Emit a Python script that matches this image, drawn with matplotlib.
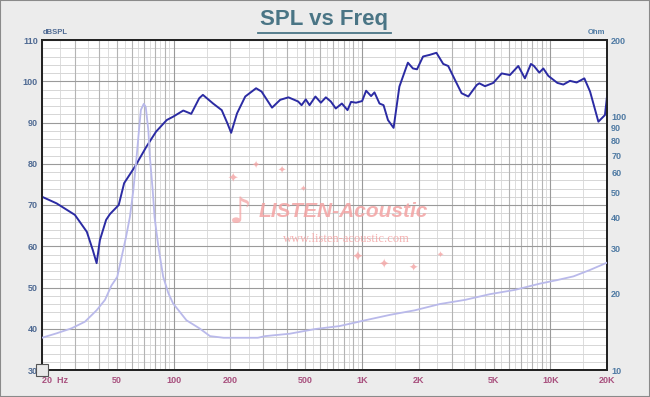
import numpy as np
import matplotlib
matplotlib.use("Agg")
import matplotlib.pyplot as plt

# ---------------- data ----------------
freq_spl = [20, 23.9, 29.9, 34.6, 37.2, 39.0, 40.6, 43.8, 45.9, 51.1, 54.6, 62.3, 71.6,
            80.7, 91.9, 99.3, 112.5, 124, 136.8, 143, 162, 180, 193, 202, 217, 240, 274,
            293, 333, 368, 407, 458, 478, 503, 527, 566, 605, 643, 683, 726, 782, 838,
            875, 930, 1002, 1052, 1118, 1165, 1239, 1302, 1374, 1472, 1580, 1753, 1865,
            1960, 2110, 2290, 2485, 2700, 2870, 3120, 3380, 3670, 4070, 4200, 4500, 4980,
            5520, 6100, 6760, 7330, 7890, 8190, 8740, 9180, 9760, 10900, 11730, 12720,
            13800, 15160, 16260, 18000, 19500, 20000]
spl_db = [72.0, 70.4, 67.6, 63.5, 59.1, 55.9, 61.5, 66.4, 67.8, 70.0, 75.3, 79.3, 84.1,
          87.8, 90.6, 91.4, 92.9, 92.1, 95.9, 96.7, 94.6, 93.0, 89.8, 87.5, 92.2, 96.3, 98.3,
          97.5, 93.6, 95.5, 96.1, 95.1, 94.2, 95.6, 94.2, 96.3, 94.8, 96.1, 95.1, 93.4, 94.6, 93.0,
          95.0, 94.8, 95.2, 97.7, 96.4, 97.3, 94.6, 94.2, 90.6, 88.7, 98.7, 104.5, 103.1,
          102.9, 106.0, 106.4, 106.9, 104.2, 103.7, 100.3, 97.1, 96.3, 99.1, 99.5, 98.8, 99.6,
          101.9, 101.5, 103.7, 100.7, 104.2, 103.7, 102.1, 103.1, 101.3, 99.6, 99.2, 100.1,
          99.7, 100.7, 97.5, 90.2, 91.8, 96.3]

freq_imp = [20, 23.9, 28.7, 33.8, 39, 43.2, 46.7, 50.2, 53, 55.9, 58.6, 61.1, 63.6, 65.7,
            67, 69.4, 71.1, 73.4, 74.8, 77.4, 79.2, 83, 88, 93.7, 99.3, 117, 137, 156,
            184, 280, 306, 413, 563, 760, 1038, 1410, 1913, 2590, 3524, 4770, 6497, 8790,
            10812, 13280, 16250, 20000]
imp_ohm = [13.4, 13.95, 14.6, 15.5, 17.2, 18.9, 21.5, 23.3, 28.0, 33.5, 40.2, 51.2, 69.3, 91,
           106, 112, 109, 88, 69, 51.2, 40, 30.6, 23.3, 20.1, 18.3, 15.7, 14.6, 13.6,
           13.4, 13.4, 13.6, 13.9, 14.5, 14.9, 15.7, 16.5, 17.2, 18.2, 18.9, 19.9, 20.7, 21.9,
           22.6, 23.4, 24.8, 26.5]

x_ticks = [20, 50, 100, 200, 500, 1000, 2000, 5000, 10000, 20000]
x_labels = ["20  Hz", "50", "100", "200", "500", "1K", "2K", "5K", "10K", "20K"]
spl_ticks = [30, 40, 50, 60, 70, 80, 90, 100, 110]
imp_ticks = [10, 20, 30, 40, 50, 60, 70, 80, 90, 100, 200]

title = "SPL vs Freq"
left_unit = "dBSPL"
right_unit = "Ohm"

# ---------------- figure ----------------
W, H = 650, 397
fig = plt.figure(figsize=(W / 100, H / 100), dpi=100)
fig.patch.set_facecolor("#ececec")

def fx(px):
    return px / W

def fy(py):
    return 1 - py / H

L, R, T, B = 42, 607, 40, 370
ax = fig.add_axes([fx(L), fy(B), (R - L) / W, (B - T) / H])
ax.set_facecolor("white")
ax.set_xscale("log")
ax.set_xlim(20, 20000)
ax.set_ylim(30, 110)

# grid lines
for dec in [10, 100, 1000, 10000]:
    for k in range(1, 10):
        v = k * dec
        if 20 <= v <= 20000:
            col = "#9a9a9a" if k == 1 else "#b4b4b4"
            ax.axvline(v, color=col, lw=0.8, zorder=1)
        vh = (k + 0.5) * dec
        if 20 < vh < 20000:
            ax.axvline(vh, color="#dcdcdc", lw=0.7, zorder=0.9)
for v in range(30, 111, 2):
    if v % 10 == 0:
        ax.axhline(v, color="#9a9a9a", lw=0.8, zorder=1)
    else:
        ax.axhline(v, color="#d6d6d6", lw=0.7, zorder=0.9)

# watermark
wm = "#f3a3a3"
fig.text(fx(343), fy(212), "LISTEN-Acoustic", color=wm, fontsize=15, fontweight="bold",
         fontstyle="italic", family="Liberation Sans", ha="center", va="center", alpha=0.85)
fig.text(fx(346), fy(239), "www.listen-acoustic.com", color=wm, fontsize=9,
         family="Liberation Serif", ha="center", va="center", alpha=0.85)
fig.text(fx(240), fy(213), "\u266A", color=wm, fontsize=26, family="DejaVu Sans",
         ha="center", va="center", alpha=0.75)
for (sx, sy, ss) in [(233, 179, 9), (256, 166, 7), (282, 171, 7), (303, 188, 6),
                     (357, 258, 10), (384, 265, 9), (413, 268, 8), (440, 254, 6)]:
    fig.text(fx(sx), fy(sy), "\u2726", color=wm, fontsize=ss, family="DejaVu Sans",
             ha="center", va="center", alpha=0.8)

# curves
ax.plot(freq_spl, spl_db, color="#2b2ba3", lw=1.4, zorder=5, solid_joinstyle="round")

ax2 = ax.twinx()
ax2.set_yscale("log")
ax2.set_ylim(10, 200)
ax2.plot(freq_imp, imp_ohm, color="#b9b9ea", lw=1.3, zorder=4, solid_joinstyle="round")

# ticks / labels
ax.set_xticks(x_ticks)
ax.set_xticklabels(x_labels)
ax.xaxis.set_minor_locator(matplotlib.ticker.NullLocator())
ax.set_yticks(spl_ticks)
ax.set_yticklabels([str(v) for v in spl_ticks])
ax2.set_yticks(imp_ticks)
ax2.set_yticklabels([str(v) for v in imp_ticks])
ax2.yaxis.set_minor_locator(matplotlib.ticker.NullLocator())

ax.tick_params(axis="x", length=0, pad=4, labelsize=6.5, labelcolor="#a8507e")
ax.tick_params(axis="y", length=0, pad=3, labelsize=6.5, labelcolor="#4f6a93")
ax2.tick_params(axis="y", length=0, pad=3, labelsize=6.5, labelcolor="#4f7aa3")
for lab in ax.get_xticklabels() + ax.get_yticklabels() + ax2.get_yticklabels():
    lab.set_family("Liberation Sans")
    lab.set_fontweight("bold")
xl = ax.get_xticklabels()
xl[0].set_horizontalalignment("left")

for a in (ax, ax2):
    for s in a.spines.values():
        s.set_color("#222222")
        s.set_linewidth(1.3)

# unit labels
fig.text(fx(43), fy(33), left_unit, color="#4f6a93", fontsize=5.5, fontweight="bold",
         family="Liberation Sans", ha="left", va="center")
fig.text(fx(605), fy(33), right_unit, color="#4f7aa3", fontsize=5.5, fontweight="bold",
         family="Liberation Sans", ha="right", va="center")

# title
fig.text(fx(324), fy(20), title, color="#4a7585", fontsize=16, fontweight="bold",
         family="Liberation Sans", ha="center", va="center")
fig.add_artist(plt.Line2D([fx(258), fx(391)], [fy(33), fy(33)], color="#4a7585", lw=1.3))

# small corner icon
fig.add_artist(plt.Rectangle((fx(36), fy(376)), 12 / W, 12 / H, facecolor="#e8e8e8",
                             edgecolor="#555555", lw=0.8))

# outer frame
fig.add_artist(plt.Rectangle((0, 0), 1, 1, fill=False, edgecolor="#8a8a8a", lw=1.5,
                             transform=fig.transFigure))

fig.savefig("out.png", dpi=100, facecolor=fig.get_facecolor())
